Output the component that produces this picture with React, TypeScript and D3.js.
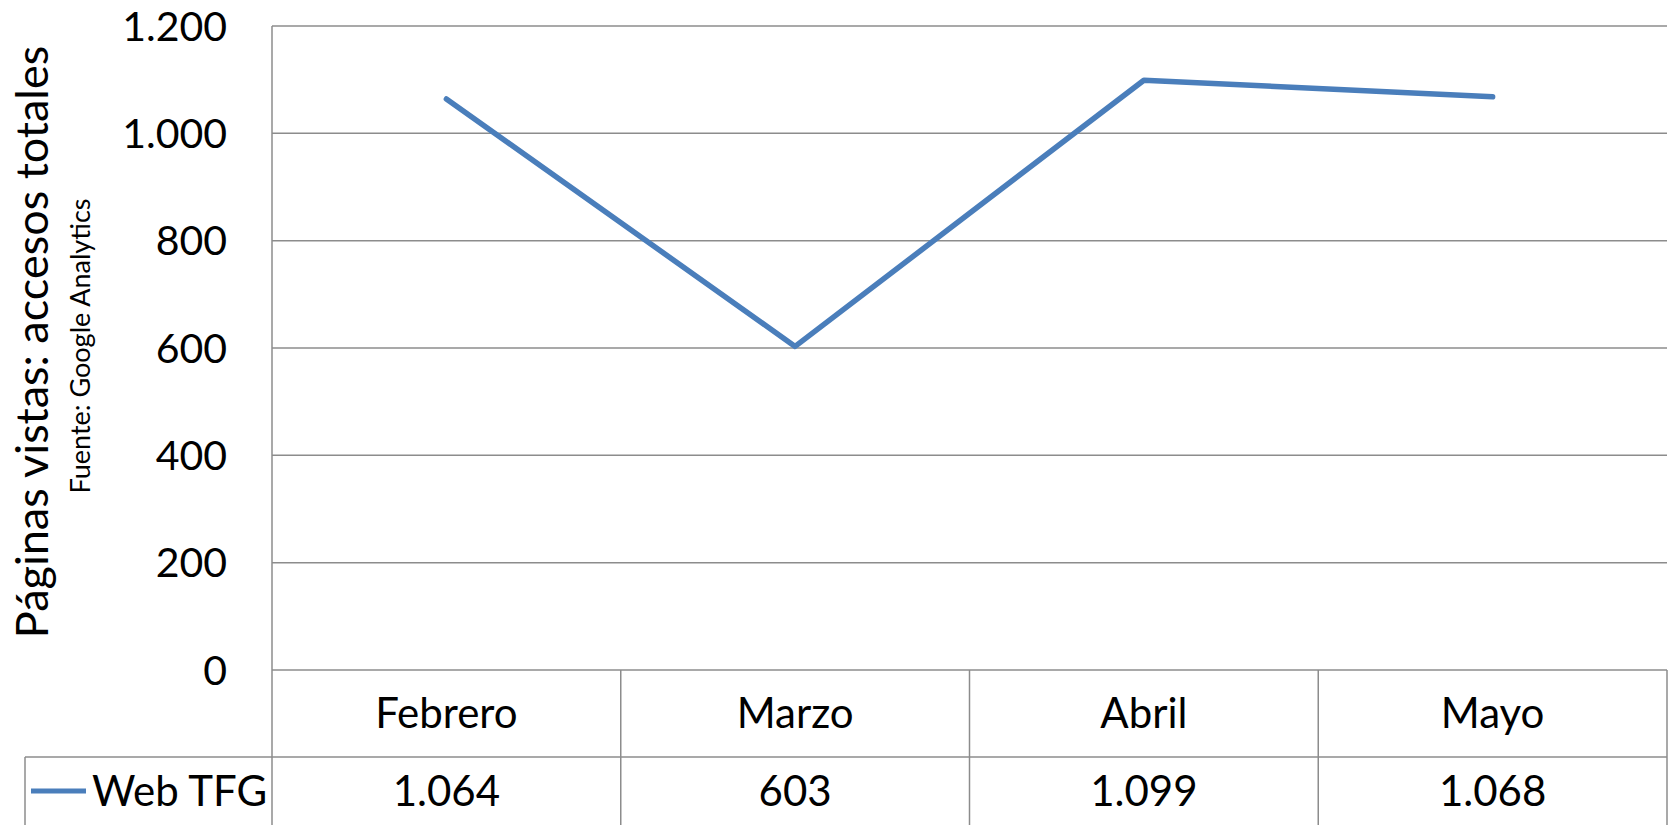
import React from 'react'
import * as d3 from 'd3'

const months = ['Febrero', 'Marzo', 'Abril', 'Mayo']
const visits = [1064, 603, 1099, 1068]
const yTicks = [0, 200, 400, 600, 800, 1000, 1200]
const seriesName = 'Web TFG'

const W = 1669
const H = 825
const left = 272
const right = 1667
const top = 26
const bottom = 670
const catRowBottom = 757
const legendLeft = 25

const fmt = (v: number) => d3.format(',')(v).replace(/,/g, '.')

export default () => {
  const x = d3.scaleBand().domain(months).range([left, right])
  const y = d3.scaleLinear().domain([0, 1200]).range([bottom, top])
  const line = d3
    .line<number>()
    .x((_, i) => (x(months[i]) as number) + x.bandwidth() / 2)
    .y((d) => y(d))

  const font = 'Lato, Calibri, sans-serif'
  const grid = '#8c8c8c'
  const blue = '#4a7ebb'

  return (
    <svg width={W} height={H} style={{ position: 'absolute', left: 0, top: 0, background: '#fff' }} fontFamily={font}>
      {yTicks.map((t) => (
        <g key={t}>
          <line x1={left} x2={right} y1={y(t)} y2={y(t)} stroke={grid} strokeWidth={1.5} />
          <text x={227} y={y(t)} dy="0.36em" textAnchor="end" fontSize={41} fill="#000">
            {fmt(t)}
          </text>
        </g>
      ))}
      <line x1={left} x2={left} y1={top} y2={H} stroke={grid} strokeWidth={1.5} />
      {months.map((m, i) => (
        <g key={m}>
          {i > 0 && (
            <line
              x1={x(m) as number}
              x2={x(m) as number}
              y1={bottom}
              y2={H}
              stroke={grid}
              strokeWidth={1.5}
            />
          )}
          <text x={(x(m) as number) + x.bandwidth() / 2} y={713} dy="0.36em" textAnchor="middle" fontSize={42}>
            {m}
          </text>
          <text x={(x(m) as number) + x.bandwidth() / 2} y={791} dy="0.36em" textAnchor="middle" fontSize={42}>
            {fmt(visits[i])}
          </text>
        </g>
      ))}
      <line x1={right} x2={right} y1={bottom} y2={H} stroke={grid} strokeWidth={1.5} />
      <line x1={legendLeft} x2={right} y1={catRowBottom} y2={catRowBottom} stroke={grid} strokeWidth={1.5} />
      <line x1={legendLeft} x2={legendLeft} y1={catRowBottom} y2={H} stroke={grid} strokeWidth={1.5} />
      <line x1={31} x2={86} y1={791} y2={791} stroke={blue} strokeWidth={5} />
      <text x={92} y={791} dy="0.36em" fontSize={42}>
        {seriesName}
      </text>
      <path d={line(visits) as string} fill="none" stroke={blue} strokeWidth={5.5} strokeLinecap="round" strokeLinejoin="round" />
      <text transform="translate(32,342) rotate(-90)" dy="0.36em" textAnchor="middle" fontSize={45}>
        Páginas vistas: accesos totales
      </text>
      <text transform="translate(80,346) rotate(-90)" dy="0.36em" textAnchor="middle" fontSize={27}>
        Fuente: Google Analytics
      </text>
    </svg>
  )
}
